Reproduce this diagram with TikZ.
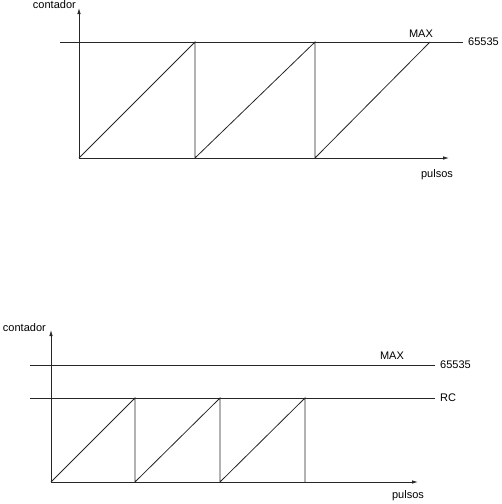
\documentclass[tikz,border=0pt]{standalone}
\usepackage{fontspec}
\setmainfont{Liberation Sans}
\usetikzlibrary{arrows.meta}
\begin{document}
\begin{tikzpicture}[x=1pt,y=-1pt,
  ln/.style={line width=0.8pt,draw=black!85},
  ax/.style={ln,-{Latex[length=6pt,width=3.5pt]}},
  lbl/.style={inner sep=0pt,font=\fontsize{11}{13}\selectfont}]
\useasboundingbox (0,0) rectangle (502,504);
% ---- top diagram ----
\coordinate (o1) at (79,158);
\coordinate (ytop1) at (79,8);
\coordinate (xend1) at (449,158);
\coordinate (mL1) at (60,42);
\coordinate (mR1) at (463,42);
\coordinate (a1) at (195,42); \coordinate (b1) at (195,158);
\coordinate (a2) at (315,42); \coordinate (b2) at (315,158);
\coordinate (a3) at (430,42);
\draw[ax] (o1) -- (ytop1);
\draw[ax] (o1) -- (xend1);
\draw[ln] (mL1) -- (mR1);
\draw[ln] (o1) -- (a1) -- (b1) -- (a2) -- (b2) -- (a3);
\node[lbl,anchor=south east] (c1) at (76,9) {contador};
\node[lbl,anchor=west] (v1) at (468,42) {65535};
\node[lbl,anchor=south] (m1) at (421,38) {MAX};
\node[lbl,anchor=north] (p1) at (437,169) {pulsos};
% ---- bottom diagram ----
\coordinate (o2) at (51,482);
\coordinate (ytop2) at (51,330);
\coordinate (xend2) at (418,482);
\coordinate (mL2) at (30,365);
\coordinate (mR2) at (435,365);
\coordinate (rL2) at (30,398);
\coordinate (rR2) at (435,398);
\coordinate (c2a) at (135,398); \coordinate (c2b) at (135,482);
\coordinate (c3a) at (220,398); \coordinate (c3b) at (220,482);
\coordinate (c4a) at (305,398); \coordinate (c4b) at (305,482);
\draw[ax] (o2) -- (ytop2);
\draw[ax] (o2) -- (xend2);
\draw[ln] (mL2) -- (mR2);
\draw[ln] (rL2) -- (rR2);
\draw[ln] (o2) -- (c2a) -- (c2b) -- (c3a) -- (c3b) -- (c4a) -- (c4b);
\node[lbl,anchor=south east] (c2) at (46,332) {contador};
\node[lbl,anchor=west] (v2) at (440,365) {65535};
\node[lbl,anchor=south] (m2) at (392,360) {MAX};
\node[lbl,anchor=west] (rc) at (440,398) {RC};
\node[lbl,anchor=north] (p2) at (408,490) {pulsos};
\end{tikzpicture}
\end{document}
